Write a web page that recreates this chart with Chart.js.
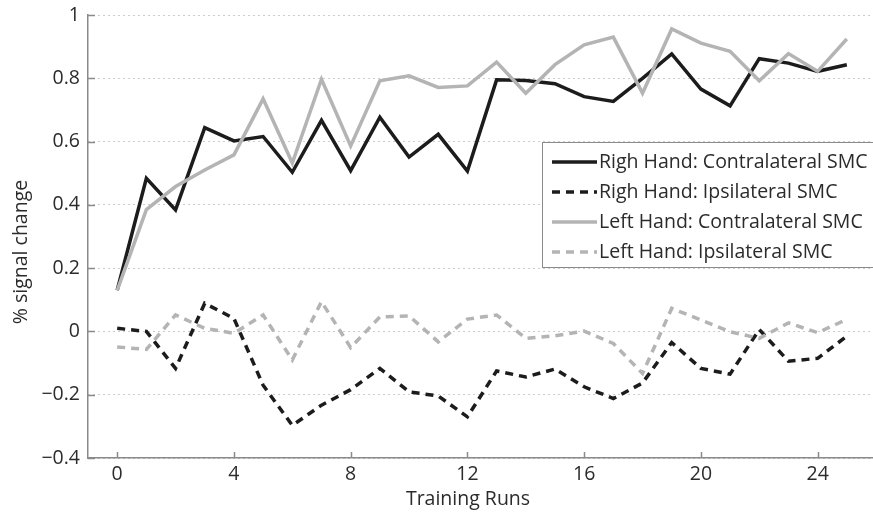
<!DOCTYPE html>
<html>
<head>
<meta charset="utf-8">
<script src="https://cdn.jsdelivr.net/npm/chart.js@4.4.1/dist/chart.umd.min.js"></script>
<style>
  html, body { margin: 0; padding: 0; background: #fff; overflow: hidden; }
  #wrap { width: 873px; height: 513px; overflow: hidden; }
</style>
</head>
<body>
<div id="wrap"><canvas id="chart" width="876" height="513"></canvas></div>
<script>
const runs = [0, 1, 2, 3, 4, 5, 6, 7, 8, 9, 10, 11, 12, 13, 14, 15, 16, 17, 18, 19, 20, 21, 22, 23, 24, 25];
const rightContra = [0.13, 0.484, 0.384, 0.644, 0.602, 0.616, 0.503, 0.667, 0.508, 0.677, 0.551, 0.623, 0.507,
  0.795, 0.793, 0.783, 0.742, 0.727, 0.80, 0.877, 0.766, 0.713, 0.862, 0.848, 0.822, 0.843];
const rightIpsi = [0.01, 0.0, -0.117, 0.089, 0.041, -0.17, -0.297, -0.233, -0.184, -0.117, -0.191, -0.204, -0.27,
  -0.125, -0.144, -0.119, -0.175, -0.212, -0.163, -0.035, -0.117, -0.135, 0.006, -0.094, -0.085, -0.015];
const leftContra = [0.13, 0.385, 0.458, 0.51, 0.558, 0.735, 0.532, 0.797, 0.586, 0.792, 0.808, 0.771, 0.776,
  0.851, 0.753, 0.843, 0.906, 0.93, 0.753, 0.956, 0.911, 0.885, 0.792, 0.878, 0.822, 0.924];
const leftIpsi = [-0.049, -0.057, 0.052, 0.01, -0.006, 0.052, -0.09, 0.094, -0.051, 0.046, 0.049, -0.033, 0.039,
  0.052, -0.022, -0.014, 0.001, -0.038, -0.133, 0.073, 0.036, -0.001, -0.022, 0.027, -0.004, 0.038];

const seriesLabels = [
  'Righ Hand: Contralateral SMC',
  'Righ Hand: Ipsilateral SMC',
  'Left Hand: Contralateral SMC',
  'Left Hand: Ipsilateral SMC'
];
const xTicks = [0, 4, 8, 12, 16, 20, 24];
const yTicks = [-0.4, -0.2, 0, 0.2, 0.4, 0.6, 0.8, 1];
const yTickLabels = ['\u22120.4', '\u22120.2', '0', '0.2', '0.4', '0.6', '0.8', '1'];
const xTitle = 'Training Runs';
const yTitle = '% signal change';

const FONT = '"Open Sans", "Noto Sans", sans-serif';
const FSIZE = 19.5;
const TEXT = '#2b2b2b';
const AXIS = '#8a8a8a';
const DARK = '#1c1c1c';
const LIGHT = '#b4b4b4';

const toPoints = (vals) => vals.map((v, i) => ({ x: runs[i], y: v }));

function line(label, vals, color, dashed, order) {
  return {
    label: label,
    data: toPoints(vals),
    borderColor: color,
    backgroundColor: color,
    borderWidth: 3.5,
    borderDash: dashed ? [8, 6] : [],
    borderCapStyle: 'butt',
    pointRadius: 0,
    tension: 0,
    fill: false,
    order: order,
  };
}

// inward ticks, axis titles and the boxed legend
const extras = {
  id: 'extras',
  afterDraw(c) {
    const ctx = c.ctx;
    const xs = c.scales.x, ys = c.scales.y;
    const area = c.chartArea;
    ctx.save();
    ctx.strokeStyle = AXIS;
    ctx.lineWidth = 1.5;
    ctx.beginPath();
    xTicks.forEach((v) => {
      const px = Math.round(xs.getPixelForValue(v)) + 0.5;
      ctx.moveTo(px, area.bottom);
      ctx.lineTo(px, area.bottom - 6);
    });
    yTicks.forEach((v) => {
      const py = Math.round(ys.getPixelForValue(v)) + 0.5;
      ctx.moveTo(area.left, py);
      ctx.lineTo(area.left + 7, py);
    });
    ctx.stroke();

    // axis titles
    ctx.fillStyle = TEXT;
    ctx.font = FSIZE + 'px ' + FONT;
    ctx.textAlign = 'center';
    ctx.textBaseline = 'middle';
    ctx.fillText(xTitle, 468, 499);
    ctx.save();
    ctx.translate(21, 252);
    ctx.rotate(-Math.PI / 2);
    ctx.fillText(yTitle, 0, 0);
    ctx.restore();

    // legend
    const bx = 542, by = 142, bw = 345, bh = 125;
    ctx.fillStyle = '#fff';
    ctx.fillRect(bx, by, bw, bh);
    ctx.strokeStyle = '#8a8a8a';
    ctx.lineWidth = 1;
    ctx.strokeRect(bx + 0.5, by + 0.5, bw, bh);
    ctx.textAlign = 'left';
    c.data.datasets.forEach((ds, i) => {
      const y = by + 20 + i * 30;
      ctx.strokeStyle = ds.borderColor;
      ctx.lineWidth = ds.borderWidth;
      ctx.setLineDash(ds.borderDash);
      ctx.beginPath();
      ctx.moveTo(552, y);
      ctx.lineTo(597, y);
      ctx.stroke();
      ctx.setLineDash([]);
      ctx.fillStyle = TEXT;
      ctx.fillText(ds.label, 599, y);
    });
    ctx.restore();
  }
};

new Chart(document.getElementById('chart'), {
  type: 'line',
  data: {
    datasets: [
      line(seriesLabels[0], rightContra, DARK, false, 1),
      line(seriesLabels[1], rightIpsi, DARK, true, 1),
      line(seriesLabels[2], leftContra, LIGHT, false, 0),
      line(seriesLabels[3], leftIpsi, LIGHT, true, 0),
    ]
  },
  options: {
    responsive: false,
    animation: false,
    devicePixelRatio: 1,
    layout: { padding: { top: 15, left: 0, right: 0, bottom: 0 } },
    scales: {
      x: {
        type: 'linear',
        min: -1,
        max: 26,
        afterBuildTicks: (s) => { s.ticks = xTicks.map((v) => ({ value: v })); },
        afterFit: (s) => { s.height = 55; s.paddingLeft = 0; s.paddingRight = 0; },
        grid: { display: false, drawTicks: false },
        border: { color: AXIS, width: 1.5 },
        ticks: { color: TEXT, font: { family: FONT, size: FSIZE }, padding: 5, maxRotation: 0 },
      },
      y: {
        min: -0.4,
        max: 1,
        afterBuildTicks: (s) => { s.ticks = yTicks.map((v) => ({ value: v })); },
        afterFit: (s) => { s.width = 88; s.paddingTop = 0; s.paddingBottom = 0; },
        grid: { color: '#9a9a9a', lineWidth: 1, drawTicks: false },
        border: { color: AXIS, width: 1.5, dash: [1, 4] },
        ticks: {
          color: TEXT,
          font: { family: FONT, size: FSIZE },
          padding: 8,
          callback: (v) => {
            const k = yTicks.findIndex((t) => Math.abs(t - v) < 1e-9);
            return k >= 0 ? yTickLabels[k] : '';
          },
        },
      },
    },
    plugins: {
      legend: { display: false },
      tooltip: { enabled: false },
    },
  },
  plugins: [extras],
});
</script>
</body>
</html>
